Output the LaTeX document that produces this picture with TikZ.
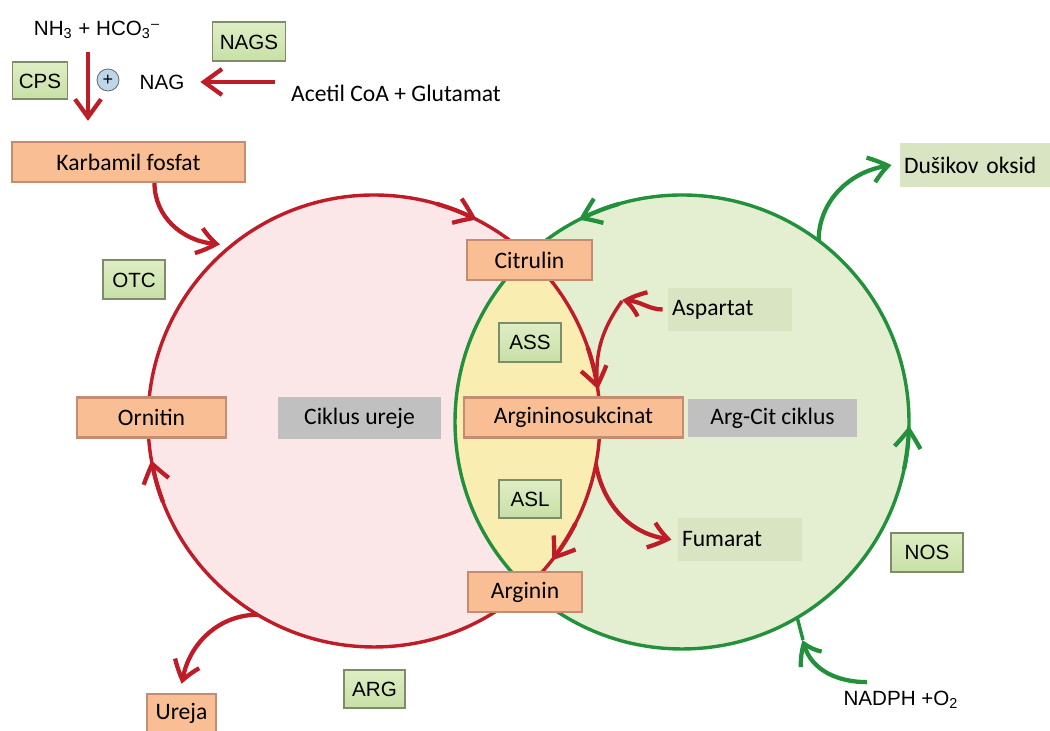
\documentclass[tikz,border=0pt]{standalone}
\usepackage{fontspec}
\setmainfont{Carlito}
\newfontfamily\arialfont{Liberation Sans}
\usetikzlibrary{arrows.meta,bending,calc}

\definecolor{urRed}{RGB}{190,28,38}
\definecolor{nosGreen}{RGB}{35,145,60}
\definecolor{urPink}{RGB}{251,230,232}
\definecolor{ncGreen}{RGB}{227,239,208}
\definecolor{lensYellow}{RGB}{249,237,178}
\definecolor{boxOrange}{RGB}{249,190,148}
\definecolor{edgeOrange}{RGB}{196,140,112}
\definecolor{enzTop}{RGB}{222,238,196}
\definecolor{enzBottom}{RGB}{200,223,166}
\definecolor{enzEdge}{RGB}{125,140,105}
\definecolor{cycGray}{RGB}{192,192,192}
\definecolor{paleGreen}{RGB}{216,228,194}
\definecolor{plusBlue}{RGB}{190,214,234}

\tikzset{
  metabolit/.style={draw=edgeOrange, fill=boxOrange, line width=0.4mm,
    minimum height=20pt, inner sep=1pt, font=\fontsize{11.8}{14}\selectfont},
  enzim/.style={draw=enzEdge, top color=enzTop, bottom color=enzBottom,
    line width=0.35mm, minimum height=19.5pt, inner sep=1pt,
    font=\arialfont\fontsize{10.3}{12}\selectfont},
  ciklus/.style={fill=cycGray, minimum height=20pt, inner sep=1pt,
    font=\fontsize{11.8}{14}\selectfont},
  izlaz/.style={fill=paleGreen, minimum height=21.5pt, inner xsep=2pt,
    align=left, font=\fontsize{11.8}{14}\selectfont},
  red line/.style={draw=urRed, line width=0.6mm},
  green line/.style={draw=nosGreen, line width=0.6mm},
  red arrow/.style={draw=urRed, line width=0.75mm, -{Straight Barb[length=9pt,width=13pt,bend]}},
  green arrow/.style={draw=nosGreen, line width=0.75mm, -{Straight Barb[length=9pt,width=13pt,bend]}}
}

\begin{document}
\begin{tikzpicture}[x=0.5pt,y=0.5pt]
	%%%%% START %%%%%
	\useasboundingbox (0,0) rectangle (1050,731);
	
	% the two cycles
	\coordinate (uc) at (374,310);
	\coordinate (gc) at (682,309);
	\fill[urPink] (uc) circle (226);
	\fill[ncGreen] (gc) circle (227);
	\begin{scope}
		\clip (uc) circle (226);
		\fill[lensYellow] (gc) circle (227);
	\end{scope}
	\draw[red line] (uc) circle (226);
	\draw[green line] (gc) circle (227);
	
	% direction marks on the circles
	\draw[red arrow] (uc) ++(74:226) arc (74:63:226);
	\draw[red arrow] (uc) ++(19:226) arc (19:8:226);
	\draw[red arrow] (uc) ++(-27:226) arc (-27:-38:226);
	\draw[red arrow] (uc) ++(201:226) arc (201:190:226);
	\draw[green arrow] (gc) ++(-12:227) arc (-12:-1:227);
	\draw[green arrow] (gc) ++(106:227) arc (106:117:227);
	
	% metabolites
	\node[metabolit, minimum width=116.5pt] (karb) at (128.5,569) {Karbamil fosfat};
	\node[metabolit, minimum width=62.5pt] (citrulin) at (529.5,471) {Citrulin};
	\node[metabolit, minimum width=109.5pt] (argsuk) at (573.5,313.5) {Argininosukcinat};
	\node[metabolit, minimum width=57pt] (arginin) at (525,139) {Arginin};
	\node[metabolit, minimum width=74.5pt] (ornitin) at (151.5,313.5) {Ornitin};
	\node[metabolit, minimum width=34.5pt, minimum height=19pt] (ureja) at (181.5,18) {Ureja};
	
	% enzymes
	\node[enzim, minimum width=36.5pt] (nags) at (249,689) {NAGS};
	\node[enzim, minimum width=27.5pt, minimum height=18.5pt] (cps) at (40,650) {CPS};
	\node[enzim, minimum width=31pt] (otc) at (134,451) {OTC};
	\node[enzim, minimum width=31pt] (ass) at (530,388.5) {ASS};
	\node[enzim, minimum width=31pt, minimum height=19pt] (asl) at (530,232) {ASL};
	\node[enzim, minimum width=30.5pt, minimum height=19pt] (argenz) at (374.5,42) {ARG};
	\node[enzim, minimum width=36pt] (nos) at (927,178.5) {NOS};
	
	% cycle names
	\node[ciklus, minimum width=81.5pt, minimum height=21pt] (urcik) at (359.5,313) {Ciklus ureje};
	\node[ciklus, minimum width=84.5pt, minimum height=19pt] (argcik) at (772.5,313) {Arg-Cit ciklus};
	
	% side products
	\node[izlaz, text width=58pt] (aspartat) at (730,421.5) {Aspartat};
	\node[izlaz, text width=58pt] (fumarat) at (740,191.5) {Fumarat};
	\node[izlaz, text width=71pt, minimum height=22pt] (no) at (975,566) {Dušikov oksid};
	
	% plain texts
	\node[font=\arialfont\fontsize{10.3}{12}\selectfont] (nh3) at (97,701)
		{NH\textsubscript{3} + HCO\textsubscript{3}\textsuperscript{–}};
	\node[font=\arialfont\fontsize{10.3}{12}\selectfont] (nag) at (162,649) {NAG};
	\node[draw=black!60, fill=plusBlue, circle, minimum size=11pt, inner sep=0pt,
		font=\arialfont\fontsize{9}{9}\selectfont] (plus) at (108,651) {+};
	\node[font=\fontsize{11.8}{14}\selectfont] (acetil) at (396,638) {Acetil CoA + Glutamat};
	\node[font=\arialfont\fontsize{10.3}{12}\selectfont] (nadph) at (901,31) {NADPH +O\textsubscript{2}};
	
	% free ends
	\coordinate (acStart) at (275,649);
	\coordinate (kin) at (220,487);
	\coordinate (ureOut) at ($(uc)+(239:226)$);
	\coordinate (noOut) at ($(gc)+(53:227)$);
	\coordinate (nadIn) at ($(gc)+(-59.5:227)$);
	\coordinate (nadTip) at (803,91);
	\coordinate (aspTip) at (622,430);
	\coordinate (aspJoin) at ($(uc)+(8.5:226)$);
	\coordinate (fumOut) at ($(uc)+(-11:226)$);
	
	% connectors
	\draw[red arrow] ([xshift=-4.5pt,yshift=-3pt]nh3.south) -- ([xshift=-20.25pt,yshift=10pt]karb.north);
	\draw[red arrow] (acStart) -- ([xshift=4.5pt]nag.east);
	\draw[red arrow] ([xshift=13pt]karb.south) to[out=-90,in=180] (kin);
	\draw[red arrow, shorten >=4.5pt] (ureOut) to[out=180,in=90] (ureja.north);
	\draw[red arrow] ([xshift=-2.5pt]aspartat.west) to[out=180,in=10] (aspTip);
	\draw[red line] (aspTip) to[out=-125,in=95] (aspJoin);
	\draw[red arrow, shorten >=3pt] (fumOut) to[out=-80,in=180] (fumarat.west);
	\draw[green arrow, shorten >=4pt] (noOut) to[out=90,in=180] (no.west);
	\draw[green arrow] ([xshift=-17pt,yshift=1pt]nadph.north) to[out=180,in=-80] (nadTip);
	\draw[green line] (nadTip) -- (nadIn);
	
	%%%%% END %%%%%
\end{tikzpicture}
\end{document}
